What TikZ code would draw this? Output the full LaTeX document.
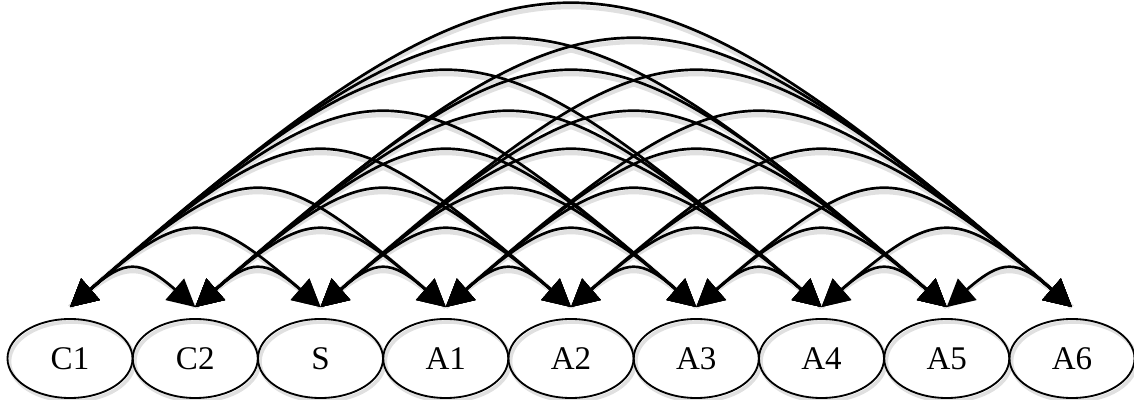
\documentclass[tikz,border=0pt]{standalone}
\usepackage{fontspec}
\setmainfont{Liberation Serif}
\usetikzlibrary{shapes.geometric,arrows.meta,calc}
\begin{document}
\begin{tikzpicture}[x=0.025cm,y=-0.025cm,
  state/.style={ellipse,draw,line width=1.3pt,minimum width=3.125cm,minimum height=1.975cm,inner sep=0pt,font=\fontsize{23.5}{28}\selectfont},
  statesh/.style={ellipse,draw=black!12,line width=2.6pt,minimum width=3.125cm,minimum height=1.975cm,inner sep=0pt},
  arc/.style={line width=1.9pt,{Triangle[length=0.68cm,width=0.7cm]}-{Triangle[length=0.68cm,width=0.7cm]}},
  arcsh/.style={line width=3.2pt,black!12,xshift=0.05cm,yshift=-0.075cm}]
\useasboundingbox (0,0) rectangle (1134,400);
% shadows of ellipses
\foreach \i in {1,...,9}{
  \pgfmathsetmacro{\xx}{70+125.25*(\i-1)}
  \node[statesh] (s\i) at (\xx+2,361.5) {};
}
% nodes
\foreach \i/\lab in {1/C1,2/C2,3/S,4/A1,5/A2,6/A3,7/A4,8/A5,9/A6}{
  \pgfmathsetmacro{\xx}{70+125.25*(\i-1)}
  \node[state] (n\i) at (\xx,358.5) {\lab};
  \coordinate (t\i) at ($(n\i.north)+(0,-11)$);
}
% arc shadows
\foreach \i in {1,...,8}{
  \pgfmathtruncatemacro{\s}{\i+1}
  \foreach \j in {\s,...,9}{
    \pgfmathsetmacro{\H}{{36,75,115,154,192,233,265,300}[\j-\i-1]}
    \pgfmathsetmacro{\hc}{\H/0.75}
    \pgfmathsetmacro{\d}{1.15*\hc}
    \draw[arcsh] (t\i) .. controls ($(t\i)+(\d,-\hc)$) and ($(t\j)+(-\d,-\hc)$) .. (t\j);
  }
}
% arcs
\foreach \i in {1,...,8}{
  \pgfmathtruncatemacro{\s}{\i+1}
  \foreach \j in {\s,...,9}{
    \pgfmathsetmacro{\H}{{36,75,115,154,192,233,265,300}[\j-\i-1]}
    \pgfmathsetmacro{\hc}{\H/0.75}
    \pgfmathsetmacro{\d}{1.15*\hc}
    \draw[arc] (t\i) .. controls ($(t\i)+(\d,-\hc)$) and ($(t\j)+(-\d,-\hc)$) .. (t\j);
  }
}
\end{tikzpicture}
\end{document}
